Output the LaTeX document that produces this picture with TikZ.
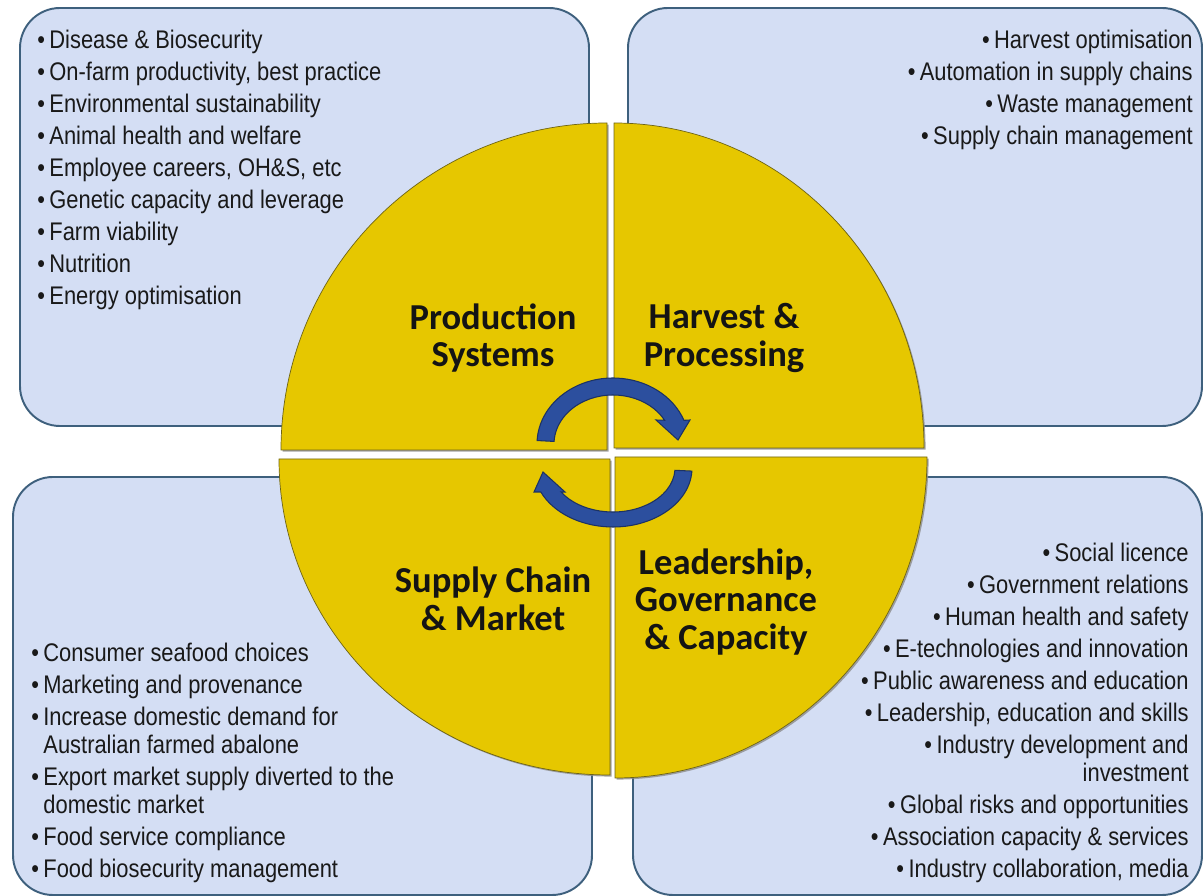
\documentclass[tikz,border=0pt]{standalone}
\usepackage{fontspec}
\setmainfont{Liberation Sans}[FakeStretch=0.86]
\newfontfamily\headfont{Carlito}
\usepackage{tikz}
\usetikzlibrary{shadows,calc}

\definecolor{boxfill}{RGB}{212,222,244}
\definecolor{boxline}{RGB}{62,96,125}
\definecolor{wheel}{RGB}{230,199,0}
\definecolor{wheelline}{RGB}{110,100,20}
\definecolor{arrowfill}{RGB}{44,79,158}
\definecolor{arrowline}{RGB}{28,50,100}
\definecolor{itemtext}{RGB}{25,25,25}
\definecolor{titletext}{RGB}{20,20,20}

\newcommand{\blt}{\textbullet\hspace{2.5pt}}
\newcommand{\hang}{\phantom{\textbullet}\hspace{2.5pt}}

\begin{document}
\begin{tikzpicture}[x=0.02cm,y=0.02cm,
    topic/.style={draw=boxline,fill=boxfill,line width=1.1pt,rounded corners=0.8cm},
    quarter/.style={draw=wheelline,fill=wheel,line width=0.4pt,
      drop shadow={shadow xshift=0.9pt,shadow yshift=-0.9pt,fill=black!45,opacity=0.8}},
    turn/.style={draw=arrowline,fill=arrowfill,line width=0.6pt},
    title/.style={font=\headfont\bfseries\fontsize{20.8}{21.4}\selectfont,align=center,text=titletext},
    items/.style={font=\fontsize{14.5}{15.9}\selectfont,inner sep=0pt,text=itemtext}]
    \useasboundingbox (0,0) rectangle (1204,896);

    % Topic panels
    \draw[topic] (20,470) rectangle (589,888);
    \draw[topic] (628,470) rectangle (1202,888);
    \draw[topic] (13,1) rectangle (592,419);
    \draw[topic] (633,1) rectangle (1202,419);

    % Wheel quarters
    \draw[quarter] (607,446) -- (281,446) arc[start angle=180,end angle=90,x radius=326,y radius=327] -- cycle;
    \draw[quarter] (614,448) -- (614,773) arc[start angle=90,end angle=0,x radius=310,y radius=325] -- cycle;
    \draw[quarter] (615,439) -- (927,439) arc[start angle=0,end angle=-90,x radius=312,y radius=321] -- cycle;
    \draw[quarter] (610,437) -- (610,121) arc[start angle=270,end angle=180,x radius=331,y radius=316] -- cycle;

    % Cycle arrows
    \coordinate (cyctop) at (613,452);
    \coordinate (cycbot) at (613,428);
    \draw[turn] ($(cyctop)+(177:76 and 66)$) arc[start angle=177,end angle=21,x radius=76,y radius=66]
        -- (690,476) -- (678,456) -- (656,476)
        -- ($(cyctop)+(29:59 and 49)$) arc[start angle=29,end angle=177,x radius=59,y radius=49] -- cycle;
    \draw[turn] ($(cycbot)+(-3:79 and 59)$) arc[start angle=-3,end angle=-156,x radius=79,y radius=59]
        -- (534,404) -- (543,424) -- (565,404)
        -- ($(cycbot)+(-147:62 and 44)$) arc[start angle=-147,end angle=-3,x radius=62,y radius=44] -- cycle;

    % Titles
    \node[title] (production) at (493,558) {Production\\Systems};
    \node[title] (harvest) at (724,558) {Harvest \&\\Processing};
    \node[title] (supply) at (493,297) {Supply Chain\\\& Market};
    \node[title] (leadership) at (726,294) {Leadership,\\Governance\\\& Capacity};

    % Lists
    \node[items,anchor=north west,align=left] (prodlist) at (37,866) {%
        \blt Disease \& Biosecurity\\[2.3pt]
        \blt On-farm productivity, best practice\\[2.3pt]
        \blt Environmental sustainability\\[2.3pt]
        \blt Animal health and welfare\\[2.3pt]
        \blt Employee careers, OH\&S, etc\\[2.3pt]
        \blt Genetic capacity and leverage\\[2.3pt]
        \blt Farm viability\\[2.3pt]
        \blt Nutrition\\[2.3pt]
        \blt Energy optimisation};
    \node[items,anchor=north east,align=right] (harvlist) at (1193,866) {%
        \blt Harvest optimisation\\[2.3pt]
        \blt Automation in supply chains\\[2.3pt]
        \blt Waste management\\[2.3pt]
        \blt Supply chain management};
    \node[items,anchor=north west,align=left] (supplist) at (31,253) {%
        \blt Consumer seafood choices\\[2.3pt]
        \blt Marketing and provenance\\[2.3pt]
        \blt Increase domestic demand for\\
        \hang Australian farmed abalone\\[2.3pt]
        \blt Export market supply diverted to the\\
        \hang domestic market\\[2.3pt]
        \blt Food service compliance\\[2.3pt]
        \blt Food biosecurity management};
    \node[items,anchor=north east,align=right] (leadlist) at (1189,353) {%
        \blt Social licence\\[2.3pt]
        \blt Government relations\\[2.3pt]
        \blt Human health and safety\\[2.3pt]
        \blt E-technologies and innovation\\[2.3pt]
        \blt Public awareness and education\\[2.3pt]
        \blt Leadership, education and skills\\[2.3pt]
        \blt Industry development and\\
        investment\\[2.3pt]
        \blt Global risks and opportunities\\[2.3pt]
        \blt Association capacity \& services\\[2.3pt]
        \blt Industry collaboration, media};
\end{tikzpicture}
\end{document}
